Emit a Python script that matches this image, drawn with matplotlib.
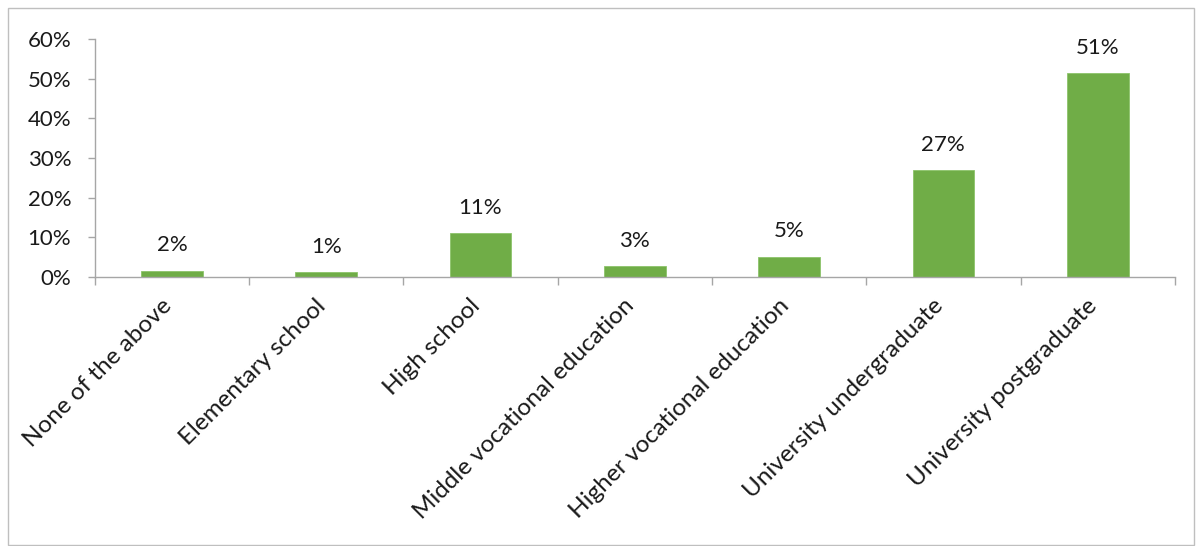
import matplotlib.pyplot as plt
import matplotlib.transforms as mtransforms
import numpy as np
from matplotlib.patches import Rectangle

# Education level distribution (share of respondents, %)
categories = ["None of the above", "Elementary school", "High school",
              "Middle vocational education", "Higher vocational education",
              "University undergraduate", "University postgraduate"]
shares = [1.6, 1.2, 11.1, 2.8, 5.1, 26.9, 51.3]
yticks = [0, 10, 20, 30, 40, 50, 60]

plt.rcParams['font.family'] = ['Lato', 'DejaVu Sans']
axis_grey = "#A6A6A6"
bar_green = "#70AD47"

fig = plt.figure(figsize=(12, 5.46), dpi=100)
ax = fig.add_axes([0.079, 0.4927, 0.9, 0.4359])

x = np.arange(len(categories))
ax.bar(x, shares, width=0.4, color=bar_green, edgecolor="#8CC46A", linewidth=0.6)

for xi, v in zip(x, shares):
    ax.annotate(f"{v:.0f}%", (xi, v), xytext=(0, 11), textcoords="offset points",
                ha="center", va="bottom", fontsize=16, color="#1a1a1a")

ax.set_xlim(-0.5, len(categories) - 0.5)
ax.set_ylim(0, 60)
ax.set_yticks(yticks)
ax.set_yticklabels([f"{t}%" for t in yticks], fontsize=16, color="#1a1a1a")

# category labels between boundary ticks
ax.set_xticks(x)
ax.set_xticklabels(categories, rotation=45, ha="right", rotation_mode="anchor",
                   fontsize=17.5, color="#1a1a1a")
ax.tick_params(axis="x", length=0, pad=13)
shift = mtransforms.ScaledTranslation(-8 / 72, 0, fig.dpi_scale_trans)
for lbl in ax.get_xticklabels():
    lbl.set_transform(lbl.get_transform() + shift)
ax.set_xticks(np.arange(len(categories) + 1) - 0.5, minor=True)
ax.tick_params(axis="x", which="minor", length=6, color=axis_grey, width=1)
ax.tick_params(axis="y", length=5, color=axis_grey, width=1, pad=12)

for side in ["top", "right"]:
    ax.spines[side].set_visible(False)
for side in ["left", "bottom"]:
    ax.spines[side].set_color(axis_grey)
    ax.spines[side].set_linewidth(1)

# outer chart border
fig.patches.append(Rectangle((0.007, 0.002), 0.988, 0.984, transform=fig.transFigure,
                             fill=False, edgecolor="#BFBFBF", linewidth=1))

fig.savefig("out.png", dpi=100)
